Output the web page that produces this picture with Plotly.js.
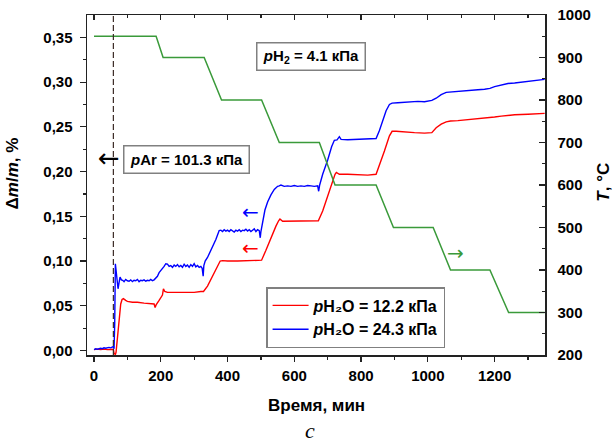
<!DOCTYPE html>
<html>
<head>
<meta charset="utf-8">
<script src="https://cdn.plot.ly/plotly-3.0.1.min.js"></script>
<style>html,body{margin:0;padding:0;background:#fff}#chart{width:616px;height:443px}</style>
</head>
<body>
<div id="chart"></div>
<script>
// ---- data ----
const redTime = [0,10,20,30,40,50,58,60,64,66,70,75,80,84,88,95,100,115,130,150,170,180,183,186,195,205,208,212,220,240,270,300,320,328,340,355,370,378,385,400,430,460,490,502,515,530,545,553,557,565,590,620,650,672,685,700,715,722,726,735,760,790,820,845,858,870,885,893,905,930,960,990,1012,1025,1040,1055,1068,1090,1120,1150,1186,1200,1220,1240,1260,1300,1350];
const redVal  = [0.001,0.0015,0.001,0.0015,0.001,0.0015,0.0015,-0.003,-0.0045,-0.002,0.015,0.035,0.052,0.057,0.058,0.056,0.055,0.054,0.054,0.053,0.052,0.052,0.048,0.051,0.056,0.062,0.069,0.066,0.065,0.065,0.065,0.065,0.066,0.066,0.072,0.083,0.095,0.100,0.1005,0.100,0.100,0.1005,0.101,0.101,0.112,0.126,0.139,0.145,0.147,0.1445,0.1445,0.1445,0.1445,0.145,0.156,0.172,0.190,0.197,0.199,0.197,0.197,0.1965,0.196,0.197,0.210,0.223,0.240,0.245,0.245,0.244,0.2435,0.243,0.2435,0.249,0.253,0.2555,0.2565,0.257,0.258,0.259,0.260,0.261,0.262,0.263,0.2635,0.264,0.265];

const blueTime = [0,5,10,15,20,25,30,35,40,45,50,55,58,60,62,64,66,68,70,72,75,78,82,86,90,95,100,105,110,115,120,125,130,135,140,145,150,155,160,165,170,175,180,185,190,195,200,205,210,215,220,225,230,235,240,245,250,255,260,265,270,275,280,285,290,295,300,305,310,315,320,324,327,329,333,340,345,350,355,360,365,370,375,380,385,390,395,400,405,410,415,420,425,430,435,440,445,450,455,460,465,470,475,480,485,490,495,498,500,505,512,520,530,540,550,555,560,570,580,590,600,610,620,630,640,650,660,670,673,676,685,700,712,720,728,735,740,760,780,800,820,845,855,865,875,885,893,910,930,950,970,990,1012,1025,1040,1055,1068,1090,1110,1130,1150,1170,1186,1200,1220,1240,1260,1280,1300,1320,1340,1350];
const blueVal  = [0.001,0.002,0.0015,0.002,0.0025,0.002,0.003,0.0025,0.003,0.0035,0.003,0.004,0.0045,0.002,0.03,0.097,0.09,0.082,0.071,0.069,0.076,0.082,0.079,0.0785,0.077,0.0795,0.078,0.0775,0.079,0.077,0.0785,0.078,0.0795,0.077,0.0785,0.078,0.079,0.0775,0.0785,0.078,0.0795,0.078,0.079,0.081,0.083,0.087,0.089,0.091,0.094,0.097,0.0965,0.094,0.095,0.093,0.0955,0.094,0.096,0.0935,0.095,0.093,0.0965,0.094,0.0955,0.093,0.096,0.094,0.097,0.0935,0.095,0.093,0.094,0.092,0.083,0.095,0.100,0.104,0.108,0.112,0.115,0.120,0.124,0.129,0.134,0.1345,0.133,0.135,0.1335,0.1345,0.133,0.135,0.134,0.1325,0.1345,0.1335,0.135,0.133,0.1345,0.134,0.1355,0.1335,0.135,0.133,0.1345,0.136,0.133,0.135,0.134,0.126,0.133,0.145,0.157,0.166,0.174,0.180,0.1835,0.184,0.185,0.1835,0.184,0.1835,0.1845,0.1835,0.184,0.1835,0.1845,0.184,0.1835,0.184,0.178,0.185,0.197,0.213,0.228,0.235,0.2355,0.239,0.236,0.2355,0.236,0.2365,0.2365,0.237,0.246,0.257,0.268,0.275,0.2765,0.277,0.2775,0.278,0.2785,0.278,0.2795,0.282,0.286,0.2885,0.289,0.2895,0.2905,0.291,0.2915,0.292,0.293,0.295,0.297,0.2985,0.299,0.300,0.301,0.302,0.303,0.303];

const tempTime = [0,186,207,330,382,502,555,675,722,845,897,1016,1068,1186,1242,1350];
const tempVal  = [950,950,900,900,800,800,700,700,600,600,500,500,400,400,300,300];

const switchTime = [58];

const xTickVals = [0,200,400,600,800,1000,1200];
const xMinorVals = [100,300,500,700,900,1100,1300];
const yTickVals = [0,0.05,0.10,0.15,0.20,0.25,0.30,0.35];
const yTickText = ["0,00","0,05","0,10","0,15","0,20","0,25","0,30","0,35"];
const yMinorVals = [0.025,0.075,0.125,0.175,0.225,0.275,0.325];
const y2TickVals = [200,300,400,500,600,700,800,900,1000];
const y2MinorVals = [250,350,450,550,650,750,850,950];

const seriesNames = ["<b><i>p</i>H₂O = 12.2 кПа</b>","<b><i>p</i>H₂O = 24.3 кПа</b>"];

// ---- chart ----
const FONT = "Liberation Sans, Arial, sans-serif";
const AX = "#222";
const xRange = [-21, 1351];

const traces = [
  {x: redTime, y: redVal, type:'scatter', mode:'lines', name: seriesNames[0], line:{color:'#ff0000', width:1.4}, xaxis:'x', yaxis:'y'},
  {x: blueTime, y: blueVal, type:'scatter', mode:'lines', name: seriesNames[1], line:{color:'#0000ff', width:1.4}, xaxis:'x', yaxis:'y'},
  {x: tempTime, y: tempVal, type:'scatter', mode:'lines', showlegend:false, line:{color:'#3a9a3a', width:1.5}, xaxis:'x', yaxis:'y2'},
  {x: [null], y: [null], type:'scatter', mode:'lines', showlegend:false, hoverinfo:'skip', xaxis:'x2', yaxis:'y'}
];

const tickFont = {family: FONT, size: 15, color:'#000', weight:'bold'};

const layout = {
  width: 616, height: 443,
  margin: {l: 87, r: 71, t: 15, b: 88},
  paper_bgcolor: '#fff', plot_bgcolor: '#fff',
  showlegend: true,
  xaxis: {
    range: xRange, tickmode:'array', tickvals: xTickVals,
    ticks:'outside', ticklen:5, tickwidth:1.2, tickcolor: AX,
    minor: {tickmode:'array', tickvals: xMinorVals, ticks:'outside', ticklen:3, tickwidth:1.2, tickcolor: AX},
    showline:true, linecolor: AX, linewidth:1.5, showgrid:false, zeroline:false,
    tickfont: tickFont, ticklabelstandoff: 1
  },
  xaxis2: {
    overlaying:'x', side:'top', anchor:'y', range: xRange, tickmode:'array', tickvals: xTickVals,
    ticks:'inside', ticklen:5, tickwidth:1.2, tickcolor: AX,
    minor: {tickmode:'array', tickvals: xMinorVals, ticks:'inside', ticklen:3, tickwidth:1.2, tickcolor: AX},
    showticklabels:false, showline:true, linecolor: AX, linewidth:1.5, showgrid:false, zeroline:false
  },
  yaxis: {
    range: [-0.005, 0.375], tickmode:'array', tickvals: yTickVals, ticktext: yTickText,
    ticks:'outside', ticklen:6, tickwidth:1.2, tickcolor: AX,
    minor: {tickmode:'array', tickvals: yMinorVals, ticks:'outside', ticklen:3, tickwidth:1.2, tickcolor: AX},
    showline:true, linecolor: AX, linewidth:1.5, showgrid:false, zeroline:false,
    tickfont: tickFont, ticklabelstandoff: 4
  },
  yaxis2: {
    overlaying:'y', side:'right', anchor:'x', range:[200,1000], tickmode:'array', tickvals: y2TickVals,
    ticks:'inside', ticklen:6, tickwidth:1.2, tickcolor: AX,
    minor: {tickmode:'array', tickvals: y2MinorVals, ticks:'inside', ticklen:3, tickwidth:1.2, tickcolor: AX},
    showline:true, linecolor: AX, linewidth:1.5, showgrid:false, zeroline:false,
    tickfont: tickFont, ticklabelstandoff: 8
  },
  legend: {
    x: 0.391, y: 0.2, xanchor:'left', yanchor:'top',
    bgcolor:'#fff', bordercolor:'#808080', borderwidth:1.5,
    font: {family: FONT, size: 16, color:'#000'},
    itemwidth: 36, tracegroupgap: 0
  },
  shapes: [
    {type:'line', xref:'x', yref:'paper', x0: switchTime[0], x1: switchTime[0], y0:0, y1:1,
     line:{color:'#3a2a25', width:1.2, dash:'6px,3px'}}
  ],
  annotations: [
    {text:'<b>Δ<i>m</i>/<i>m</i>, %</b>', xref:'paper', yref:'paper', x:-0.163, y:0.535, textangle:-90,
     xanchor:'center', yanchor:'middle',
     showarrow:false, font:{family: FONT, size:17, color:'#000'}},
    {text:'<b><i>T</i>, °C</b>', xref:'paper', yref:'paper', x:1.129, y:0.507, textangle:-90,
     xanchor:'center', yanchor:'middle',
     showarrow:false, font:{family: FONT, size:17, color:'#000'}},
    {text:'<b>Время, мин</b>', xref:'paper', yref:'paper', x:0.5, y:-0.15, xanchor:'center', yanchor:'middle',
     showarrow:false, font:{family: FONT, size:17, color:'#000'}},
    {text:'<i>c</i>', xref:'paper', yref:'paper', x:0.487, y:-0.222, xanchor:'center', yanchor:'middle',
     height:20, showarrow:false, font:{family:'Liberation Serif, serif', size:22, color:'#000'}},
    {text:'<b><i>p</i>Ar = 101.3 кПа</b>', xref:'x', yref:'y', x:277, y:0.214,
     showarrow:false, font:{family: FONT, size:15, color:'#000'},
     bgcolor:'#fff', bordercolor:'#808080', borderwidth:1.5, borderpad:4, width:116, height:18},
    {text:'<b><i>p</i>H<sub>2</sub> = 4.1 кПа</b>', xref:'x', yref:'y', x:650, y:0.3285,
     showarrow:false, font:{family: FONT, size:15, color:'#000'},
     bgcolor:'#fff', bordercolor:'#808080', borderwidth:1.5, borderpad:4, width:99, height:18},
    {text:'←', xref:'x', yref:'y', x:45, y:0.2157, showarrow:false,
     font:{family:'DejaVu Sans', size:26, color:'#000'}},
    {text:'←', xref:'x', yref:'y', x:470, y:0.1553, showarrow:false,
     font:{family:'DejaVu Sans', size:20, color:'#0000ff'}},
    {text:'←', xref:'x', yref:'y', x:470, y:0.115, showarrow:false,
     font:{family:'DejaVu Sans', size:20, color:'#ff0000'}},
    {text:'→', xref:'x', yref:'y2', x:1084, y:440, showarrow:false,
     font:{family:'DejaVu Sans', size:20, color:'#3a9a3a'}}
  ]
};

Plotly.newPlot('chart', traces, layout, {displayModeBar:false, staticPlot:true});
</script>
</body>
</html>
